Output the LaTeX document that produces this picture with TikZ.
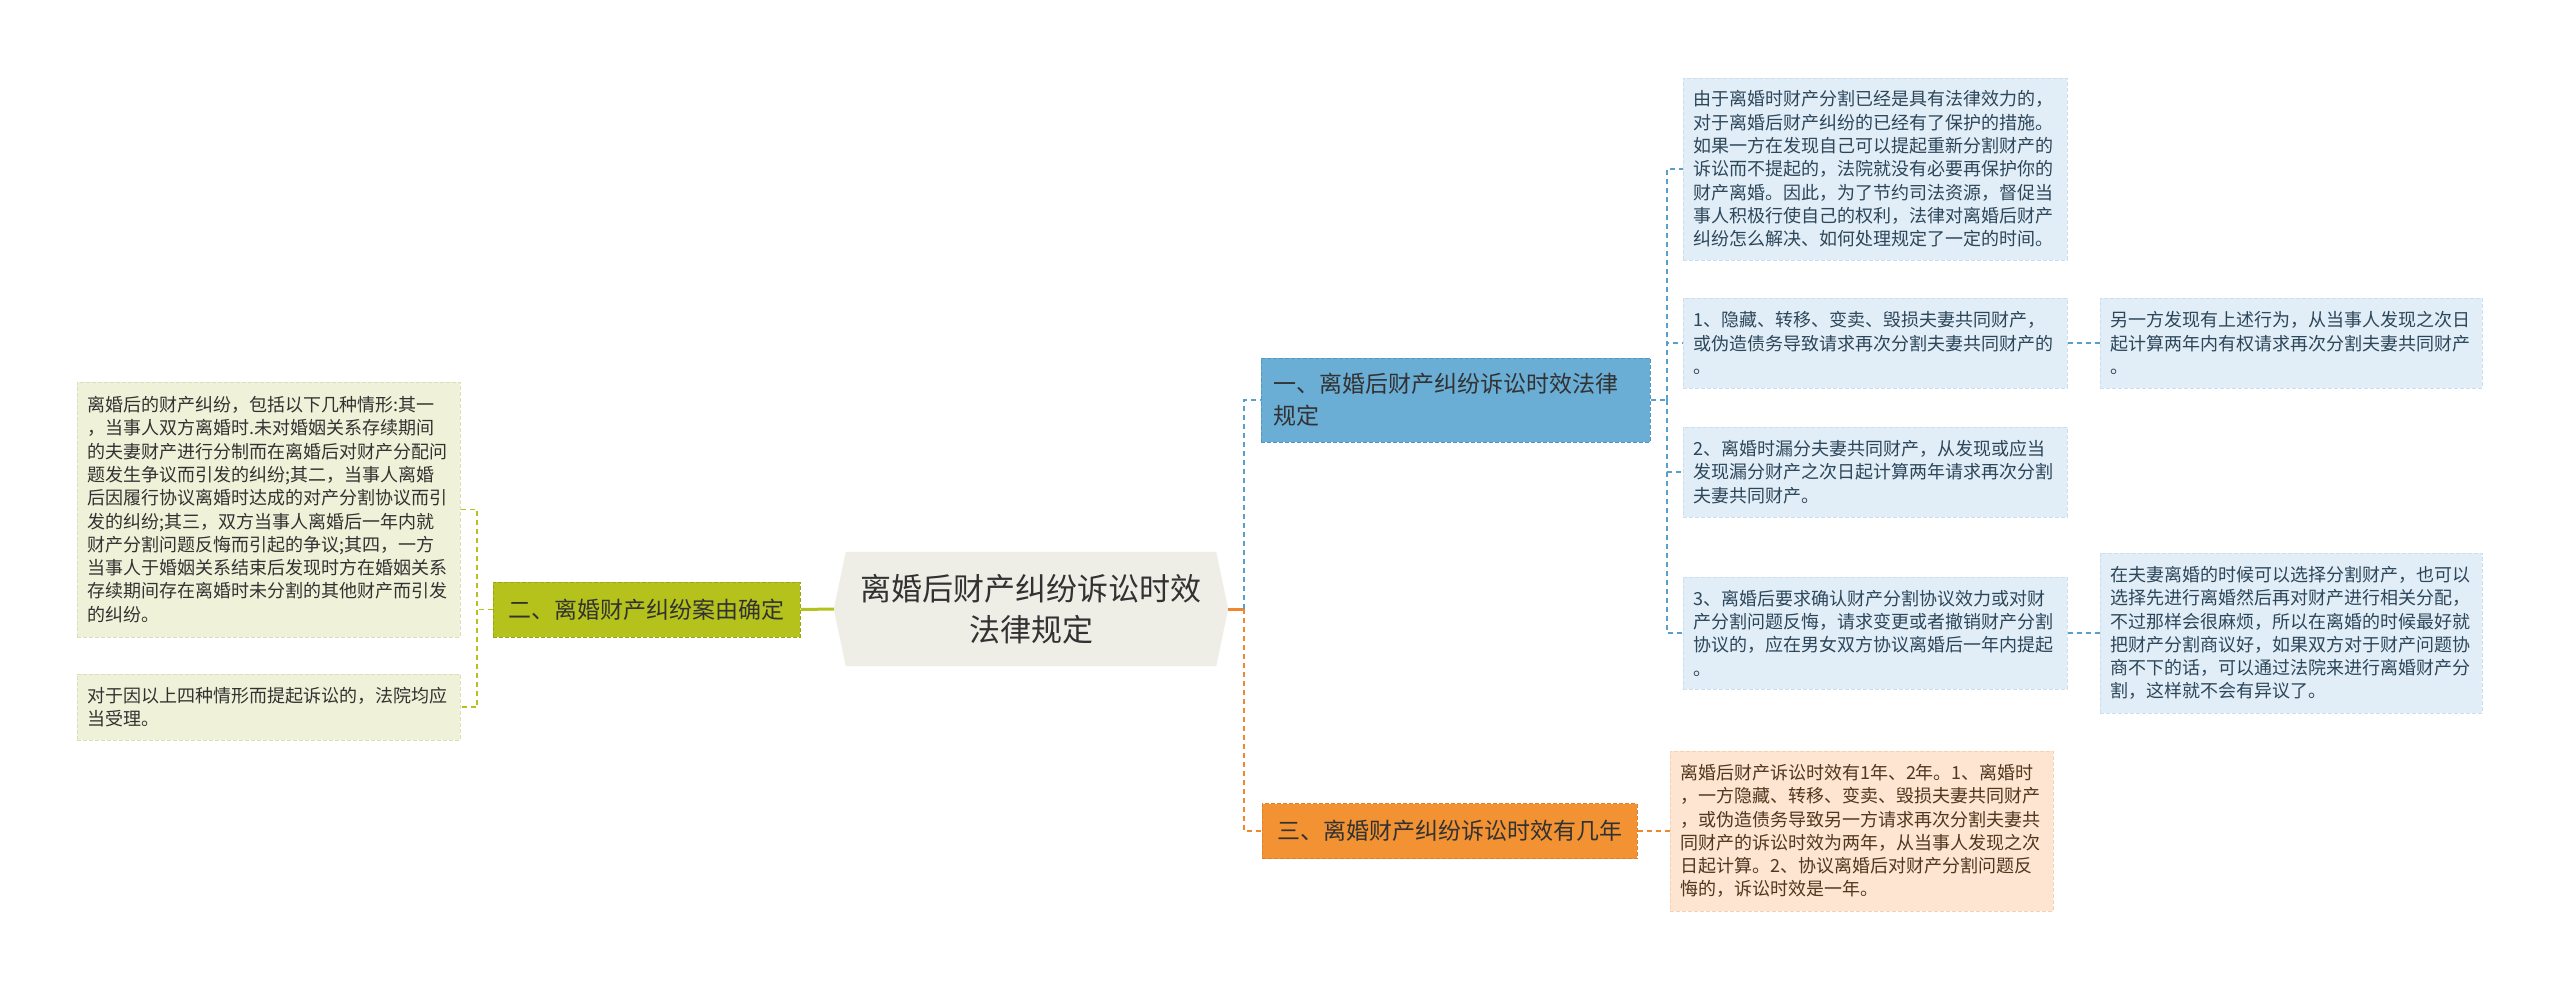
\documentclass[tikz,border=0pt]{standalone}
\usepackage{fontspec}
\setmainfont{Noto Sans CJK SC}
\usetikzlibrary{backgrounds}
\definecolor{cfill}{RGB}{238,238,230}
\definecolor{lfill}{RGB}{239,242,216}
\definecolor{lborder}{RGB}{218,223,186}
\definecolor{olv}{RGB}{182,194,28}
\definecolor{olvb}{RGB}{155,166,22}
\definecolor{bmain}{RGB}{106,174,214}
\definecolor{bmainb}{RGB}{84,150,194}
\definecolor{bfill}{RGB}{225,238,247}
\definecolor{bborder}{RGB}{204,223,238}
\definecolor{bline}{RGB}{90,158,204}
\definecolor{btext}{RGB}{45,70,90}
\definecolor{omain}{RGB}{242,146,50}
\definecolor{omainb}{RGB}{222,128,40}
\definecolor{pfill}{RGB}{253,229,210}
\definecolor{pborder}{RGB}{245,210,180}
\definecolor{oline}{RGB}{238,136,46}
\definecolor{ptext}{RGB}{80,55,30}
\definecolor{tdark}{RGB}{50,50,50}
\begin{document}
\begin{tikzpicture}[x=1pt,y=-1pt,
  box/.style={anchor=center, inner xsep=10pt, inner ysep=0pt, align=left,
    font=\fontsize{18}{23.3}\selectfont, line width=1pt, dash pattern=on 4pt off 2pt},
  lbox/.style={box, fill=lfill, draw=lborder, text=tdark},
  bbox/.style={box, fill=bfill, draw=bborder, text=btext},
  pbox/.style={box, fill=pfill, draw=pborder, text=ptext},
  mainbox/.style={anchor=center, inner xsep=12pt, inner ysep=0pt,
    font=\fontsize{23}{32}\selectfont, line width=1pt, dash pattern=on 4pt off 2pt},
  conn/.style={line width=1.6pt, dash pattern=on 5pt off 4pt},
  oldash/.style={conn, draw=olv},
  bldash/.style={conn, draw=bline},
  ordash/.style={conn, draw=oline},
]
\useasboundingbox (0,0) rectangle (2560,989);

% center node
\node[anchor=center, minimum width=394pt, minimum height=114pt, inner sep=0pt,
  align=center, text=tdark, font=\fontsize{31}{41}\selectfont] (c) at (1031,609)
  {离婚后财产纠纷诉讼时效\\法律规定};
\begin{pgfonlayer}{background}
\fill[white] (0,0) rectangle (2560,989);
\fill[cfill] (c.west) -- ([xshift=12pt]c.north west) -- ([xshift=-12pt]c.north east)
  -- (c.east) -- ([xshift=-12pt]c.south east) -- ([xshift=12pt]c.south west) -- cycle;
\end{pgfonlayer}

% left branch
\node[mainbox, fill=olv, draw=olvb, text=tdark, minimum width=307pt, minimum height=55pt,
  align=center] (n2) at (646.5,609.5) {二、离婚财产纠纷案由确定};
\node[lbox, text width=363pt, minimum height=255pt] (l1) at (268.5,509.5)
  {离婚后的财产纠纷，包括以下几种情形:其一\\
   ，当事人双方离婚时.未对婚姻关系存续期间\\
   的夫妻财产进行分制而在离婚后对财产分配问\\
   题发生争议而引发的纠纷;其二，当事人离婚\\
   后因履行协议离婚时达成的对产分割协议而引\\
   发的纠纷;其三，双方当事人离婚后一年内就\\
   财产分割问题反悔而引起的争议;其四，一方\\
   当事人于婚姻关系结束后发现时方在婚姻关系\\
   存续期间存在离婚时未分割的其他财产而引发\\
   的纠纷。};
\node[lbox, text width=363pt, minimum height=66pt] (l2) at (268.5,707)
  {对于因以上四种情形而提起诉讼的，法院均应\\当受理。};

% right branch 1
\node[mainbox, fill=bmain, draw=bmainb, text=tdark, text width=365pt, minimum height=84pt,
  align=left] (n1) at (1455.5,400) {一、离婚后财产纠纷诉讼时效法律\\规定};
\node[bbox, text width=364pt, minimum height=182pt] (a) at (1875,169)
  {由于离婚时财产分割已经是具有法律效力的，\\
   对于离婚后财产纠纷的已经有了保护的措施。\\
   如果一方在发现自己可以提起重新分割财产的\\
   诉讼而不提起的，法院就没有必要再保护你的\\
   财产离婚。因此，为了节约司法资源，督促当\\
   事人积极行使自己的权利，法律对离婚后财产\\
   纠纷怎么解决、如何处理规定了一定的时间。};
\node[bbox, text width=364pt, minimum height=90pt] (b) at (1875,343)
  {1、隐藏、转移、变卖、毁损夫妻共同财产，\\
   或伪造债务导致请求再次分割夫妻共同财产的\\
   。};
\node[bbox, text width=364pt, minimum height=90pt] (cc) at (1875,472)
  {2、离婚时漏分夫妻共同财产，从发现或应当\\
   发现漏分财产之次日起计算两年请求再次分割\\
   夫妻共同财产。};
\node[bbox, text width=364pt, minimum height=112pt] (d) at (1875,633)
  {3、离婚后要求确认财产分割协议效力或对财\\
   产分割问题反悔，请求变更或者撤销财产分割\\
   协议的，应在男女双方协议离婚后一年内提起\\
   。};
\node[bbox, text width=362pt, minimum height=90pt] (e) at (2291,343)
  {另一方发现有上述行为，从当事人发现之次日\\
   起计算两年内有权请求再次分割夫妻共同财产\\
   。};
\node[bbox, text width=362pt, minimum height=160pt] (f) at (2291,633)
  {在夫妻离婚的时候可以选择分割财产，也可以\\
   选择先进行离婚然后再对财产进行相关分配，\\
   不过那样会很麻烦，所以在离婚的时候最好就\\
   把财产分割商议好，如果双方对于财产问题协\\
   商不下的话，可以通过法院来进行离婚财产分\\
   割，这样就不会有异议了。};

% right branch 3
\node[mainbox, fill=omain, draw=omainb, text=tdark, minimum width=375pt, minimum height=55pt,
  align=center] (n3) at (1449.5,831) {三、离婚财产纠纷诉讼时效有几年};
\node[pbox, text width=363pt, minimum height=160pt] (g) at (1861.5,831)
  {离婚后财产诉讼时效有1年、2年。1、离婚时\\
   ，一方隐藏、转移、变卖、毁损夫妻共同财产\\
   ，或伪造债务导致另一方请求再次分割夫妻共\\
   同财产的诉讼时效为两年，从当事人发现之次\\
   日起计算。2、协议离婚后对财产分割问题反\\
   悔的，诉讼时效是一年。};

% connectors
\coordinate (jL) at (477,609.5);
\coordinate (jR) at (1244,609);
\coordinate (jB) at (1667,400);
\draw[draw=olv, line width=3pt] (c.west) -- (n2.east);
\draw[oldash] (n2.west) -- (jL);
\draw[oldash] (l1.east) -| (jL);
\draw[oldash] (jL) |- (l2.east);
\draw[draw=oline, line width=3pt] (c.east) -- (jR);
\draw[bldash] (jR) |- (n1.west);
\draw[ordash] (jR) |- (n3.west);
\draw[bldash] (n1.east) -- (jB);
\draw[bldash] (jB) |- (a.west);
\draw[bldash] (jB) |- (b.west);
\draw[bldash] (jB) |- (cc.west);
\draw[bldash] (jB) |- (d.west);
\draw[bldash] (b.east) -- (e.west);
\draw[bldash] (d.east) -- (f.west);
\draw[ordash] (n3.east) -- (g.west);
\end{tikzpicture}
\end{document}
